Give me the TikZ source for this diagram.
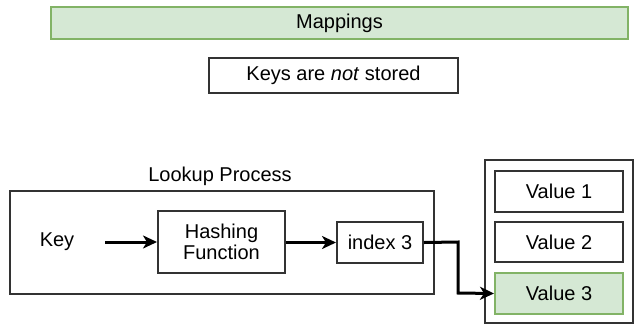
\documentclass[tikz,border=0pt]{standalone}
\usepackage{fontspec}
\setmainfont{Liberation Sans}
\usetikzlibrary{arrows.meta}
\definecolor{gfill}{HTML}{D5E8D4}
\definecolor{gdraw}{HTML}{82B366}
\definecolor{bdraw}{HTML}{333333}
\tikzset{
  box/.style={draw=bdraw, line width=2pt, fill=white, inner sep=0pt, anchor=north west, font=\fontsize{20}{23}\selectfont, align=center},
  gbox/.style={box, draw=gdraw, fill=gfill},
  conn/.style={draw=black, line width=3pt, -{Stealth[length=14pt,width=13pt,inset=4pt]}},
  lbl/.style={font=\fontsize{20}{23}\selectfont, inner sep=0pt}
}
\begin{document}
\begin{tikzpicture}[x=1pt,y=-1pt]
\useasboundingbox (0,0) rectangle (637,325);
\node[gbox, minimum width=577pt, minimum height=32pt] (map) at (50,6) {Mappings};
\node[box, minimum width=249pt, minimum height=35pt] (keys) at (208,57) {Keys are \textit{not} stored};
\node[box, minimum width=424pt, minimum height=103pt] (proc) at (9,190) {};
\node[lbl, anchor=south] (proclbl) at (220,186) {Lookup Process};
\node[lbl] (key) at (57,242) {Key};
\node[box, minimum width=127pt, minimum height=62pt] (hash) at (157,210) {Hashing\\[-2pt]Function};
\node[box, minimum width=86pt, minimum height=41pt] (idx) at (336,221) {index 3};
\node[box, minimum width=148pt, minimum height=163pt] (store) at (484,159) {};
\node[box, minimum width=128pt, minimum height=41pt] (v1) at (494,170) {Value 1};
\node[box, minimum width=128pt, minimum height=40pt] (v2) at (494,221) {Value 2};
\node[gbox, minimum width=128pt, minimum height=41pt] (v3) at (494,272) {Value 3};
\coordinate (keyend) at (105,242);
\draw[conn] (keyend) -- (hash.west);
\draw[conn] (hash.east |- idx.west) -- (idx.west);
\draw[conn] (idx.east) -- (458,242) -- (458,293) -- (v3.west);
\end{tikzpicture}
\end{document}
